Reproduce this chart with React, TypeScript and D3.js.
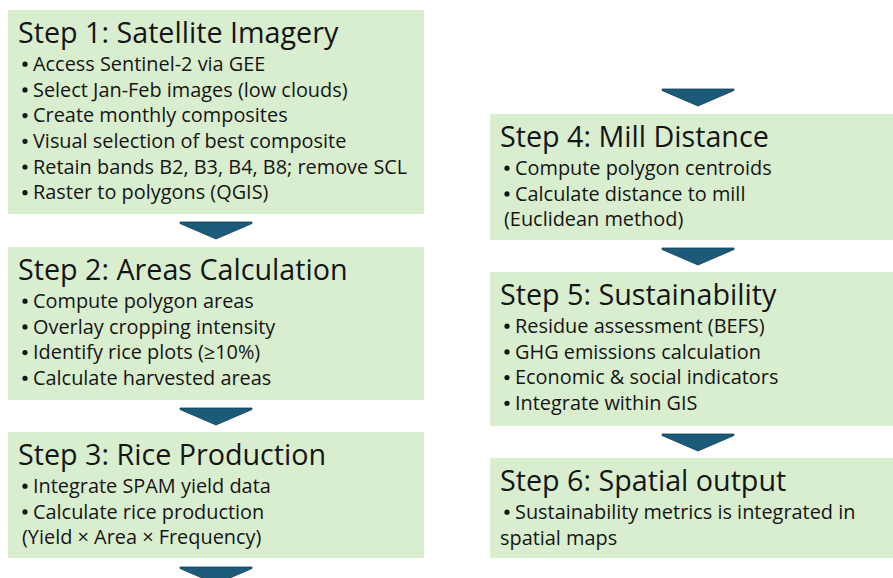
import React, { useRef, useEffect } from "react";
import * as d3 from "d3";

// Flow steps, in reading order (left column 1-3, right column 4-6)
const stepTitles = [
  "Step 1: Satellite Imagery",
  "Step 2: Areas Calculation",
  "Step 3: Rice Production",
  "Step 4: Mill Distance",
  "Step 5: Sustainability",
  "Step 6: Spatial output",
];

// "• " starts a bullet; other lines continue the bullet above
const stepLines = [
  [
    "• Access Sentinel-2 via GEE",
    "• Select Jan-Feb images (low clouds)",
    "• Create monthly composites",
    "• Visual selection of best composite",
    "• Retain bands B2, B3, B4, B8; remove SCL",
    "• Raster to polygons (QGIS)",
  ],
  [
    "• Compute polygon areas",
    "• Overlay cropping intensity",
    "• Identify rice plots (≥10%)",
    "• Calculate harvested areas",
  ],
  [
    "• Integrate SPAM yield data",
    "• Calculate rice production",
    " (Yield × Area × Frequency)",
  ],
  [
    "• Compute polygon centroids",
    "• Calculate distance to mill",
    " (Euclidean method)",
  ],
  [
    "• Residue assessment (BEFS)",
    "• GHG emissions calculation",
    "• Economic & social indicators",
    "• Integrate within GIS",
  ],
  ["• Sustainability metrics is integrated in", "spatial maps"],
];

const stepColumn = [0, 0, 0, 1, 1, 1];

const W = 893;
const H = 578;
const FONT = "'Open Sans', sans-serif";

const App: React.FC = () => {
  const svgRef = useRef<SVGSVGElement>(null);

  useEffect(() => {
    if (!svgRef.current) return;
    const svg = d3.select(svgRef.current);
    svg.selectAll("*").remove();

    // box layout
    const colX = [8, 490];
    const boxW = 416;
    const boxTop = [10, 247, 432, 114, 272, 458];
    const boxH = [204, 153, 126, 126, 154, 100];
    const lineGap = 25.7;
    const bulletSize = 19.9;
    const titleSize = 28.7;

    const fill = "#d9eecf";
    const ink = "#151515";
    const arrowFill = "#1b5a78";

    // arrow tops, centred on the column
    const arrowTops = [
      { c: 0, y: 222 },
      { c: 0, y: 408 },
      { c: 0, y: 567 },
      { c: 1, y: 89 },
      { c: 1, y: 248 },
      { c: 1, y: 434 },
    ].map((d) => ({ x: colX[d.c] + boxW / 2, y: d.y }));

    const arrow = d3.line<[number, number]>();
    svg
      .append("g")
      .selectAll("path")
      .data(arrowTops)
      .join("path")
      .attr("d", (d) =>
        arrow([
          [d.x - 36, d.y],
          [d.x + 36, d.y],
          [d.x + 36, d.y + 1.5],
          [d.x, d.y + 17],
          [d.x - 36, d.y + 1.5],
        ]) + "Z"
      )
      .attr("fill", arrowFill)
      .attr("stroke", "#123f56")
      .attr("stroke-width", 0.8);

    const boxes = svg
      .append("g")
      .selectAll("g")
      .data(stepTitles.map((t, i) => ({ title: t, lines: stepLines[i], i })))
      .join("g")
      .attr(
        "transform",
        (d) => `translate(${colX[stepColumn[d.i]]},${boxTop[d.i]})`
      );

    boxes
      .append("rect")
      .attr("width", (d) => (stepColumn[d.i] ? boxW + 10 : boxW))
      .attr("height", (d) => boxH[d.i])
      .attr("fill", fill);

    boxes
      .append("text")
      .attr("x", 10)
      .attr("y", 32.5)
      .attr("font-family", FONT)
      .attr("font-size", titleSize)
      .attr("fill", ink)
      .text((d) => d.title);

    boxes.each(function (d) {
      const g = d3.select(this);
      d.lines.forEach((line, j) => {
        const y = 60.8 + j * lineGap;
        const isBullet = line.startsWith("•");
        const t = g
          .append("text")
          .attr("font-family", FONT)
          .attr("font-size", bulletSize)
          .attr("fill", ink)
          .attr("y", y);
        if (isBullet) {
          g.append("circle")
            .attr("cx", 17)
            .attr("cy", y - 6.6)
            .attr("r", 2.6)
            .attr("fill", ink);
          t.attr("x", 25).text(line.slice(2));
        } else {
          t.attr("x", line.startsWith(" ") ? 14 : 10).text(line.trim());
        }
      });
    });

    return () => {
      svg.selectAll("*").remove();
    };
  }, []);

  return (
    <svg
      ref={svgRef}
      width={W}
      height={H}
      style={{ display: "block", position: "absolute", left: 0, top: 0 }}
    />
  );
};

export default App;
